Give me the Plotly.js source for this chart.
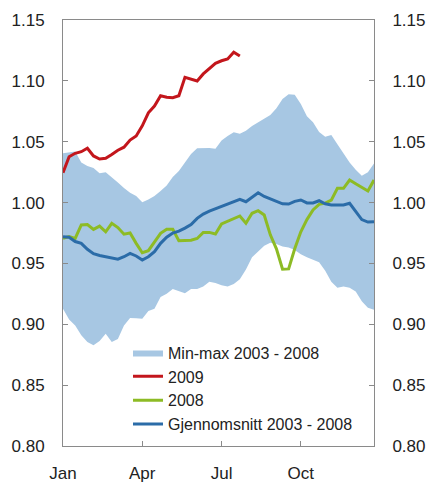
<!DOCTYPE html>
<html>
<head>
<meta charset="utf-8">
<script src="https://cdn.plot.ly/plotly-3.0.1.min.js"></script>
<style>html,body{margin:0;padding:0;background:#fff;}#chart{width:428px;height:484px;}</style>
</head>
<body>
<div id="chart"></div>
<script>
// Week index 0..51
const weeks = Array.from({length: 52}, (_, i) => i);
const tickWeeks = [0, 13, 26, 39];
const tickLabels = ['Jan', 'Apr', 'Jul', 'Oct'];
const yTicks = [0.80, 0.85, 0.90, 0.95, 1.00, 1.05, 1.10, 1.15];

const bandMax = [1.0405,1.041,1.042,1.033,1.030,1.0285,1.024,1.025,1.021,1.0165,
  1.012,1.008,1.0055,1.0002,1.0025,1.0054,1.0095,1.014,1.021,1.026,
  1.033,1.040,1.0446,1.0448,1.0448,1.0443,1.051,1.0547,1.0577,1.0565,
  1.059,1.063,1.066,1.069,1.072,1.0774,1.085,1.0889,1.0885,1.081,
  1.071,1.066,1.058,1.054,1.0555,1.048,1.0405,1.033,1.027,1.022,
  1.025,1.032];
const bandMin = [0.9128,0.904,0.899,0.891,0.8854,0.8827,0.8862,0.8922,0.8854,0.888,
  0.899,0.9052,0.905,0.9046,0.911,0.9128,0.9224,0.925,0.929,0.927,
  0.9255,0.929,0.929,0.931,0.935,0.934,0.932,0.931,0.933,0.937,
  0.945,0.955,0.960,0.9645,0.967,0.966,0.964,0.963,0.961,0.9575,
  0.955,0.953,0.951,0.944,0.935,0.930,0.931,0.930,0.927,0.919,
  0.9135,0.912];
const y2009 = [1.0245,1.0377,1.0405,1.0418,1.0446,1.0383,1.0358,1.0364,1.0395,1.043,
  1.0455,1.0514,1.0547,1.063,1.0738,1.0793,1.0878,1.0865,1.0862,1.0878,
  1.1029,1.1014,1.0999,1.1057,1.110,1.1144,1.1165,1.118,1.1235,1.1204];
const y2008 = [0.9706,0.972,0.9706,0.9816,0.982,0.978,0.9807,0.976,0.983,0.9795,
  0.974,0.975,0.9665,0.9588,0.9605,0.968,0.9747,0.978,0.978,0.9687,
  0.969,0.969,0.9705,0.9755,0.9755,0.9742,0.9824,0.9845,0.9867,0.989,
  0.983,0.9912,0.9933,0.9898,0.9735,0.962,0.9452,0.9455,0.962,0.976,
  0.986,0.994,0.9985,0.9995,1.002,1.0117,1.0117,1.0185,1.0155,1.0125,
  1.0095,1.0185];
const yAvg = [0.972,0.9715,0.968,0.9665,0.9616,0.958,0.9565,0.9553,0.9543,0.9535,
  0.9555,0.9583,0.9561,0.9528,0.9555,0.9596,0.9665,0.9715,0.975,0.9765,
  0.979,0.982,0.987,0.9905,0.993,0.995,0.997,0.999,1.001,1.0027,
  1.0007,1.0045,1.0081,1.005,1.003,1.0005,0.999,0.9988,1.001,1.0021,
  0.9997,0.9997,1.0015,0.999,0.998,0.998,0.998,0.9994,0.9925,0.986,
  0.984,0.9843];

const names = ['Min-max 2003 - 2008', '2009', '2008', 'Gjennomsnitt 2003 - 2008'];
const colors = {band: '#a7c7e3', red: '#c3161c', green: '#8dbb25', blue: '#2b6ca8'};

const traces = [
  {x: weeks, y: bandMin, type: 'scatter', mode: 'lines', line: {width: 0, color: colors.band},
   showlegend: false, hoverinfo: 'skip'},
  {x: weeks, y: bandMax, type: 'scatter', mode: 'lines', line: {width: 0, color: colors.band},
   fill: 'tonexty', fillcolor: colors.band, name: names[0]},
  {x: weeks.slice(0, y2009.length), y: y2009, type: 'scatter', mode: 'lines',
   line: {color: colors.red, width: 3}, name: names[1]},
  {x: weeks, y: y2008, type: 'scatter', mode: 'lines',
   line: {color: colors.green, width: 3}, name: names[2]},
  {x: weeks, y: yAvg, type: 'scatter', mode: 'lines',
   line: {color: colors.blue, width: 3}, name: names[3]},
  {x: weeks, y: yAvg, type: 'scatter', mode: 'lines', yaxis: 'y2',
   line: {width: 0}, opacity: 0, showlegend: false, hoverinfo: 'skip'}
];

const axisCommon = {
  showgrid: false, zeroline: false, showline: true, linecolor: '#8a8a8a', linewidth: 1,
  ticks: 'inside', ticklen: 5, tickcolor: '#8a8a8a', tickwidth: 1,
  tickfont: {family: 'Liberation Sans, Arial, sans-serif', size: 17, color: '#222'}
};

const layout = {
  width: 428, height: 484,
  margin: {l: 63, r: 54, t: 20, b: 38},
  paper_bgcolor: '#fff', plot_bgcolor: '#fff',
  showlegend: true,
  legend: {x: 0.209, y: 0.259, xanchor: 'left', yanchor: 'top', bgcolor: 'rgba(0,0,0,0)',
    traceorder: 'normal',
    font: {family: 'Liberation Sans, Arial, sans-serif', size: 16, color: '#222'},
    tracegroupgap: 0, itemwidth: 30},
  xaxis: Object.assign({}, axisCommon, {range: [0, 51], tickvals: tickWeeks, ticktext: tickLabels,
    mirror: true, ticklabelstandoff: 12}),
  yaxis: Object.assign({}, axisCommon, {range: [0.80, 1.15], tickvals: yTicks,
    tickformat: '.2f', ticklabelstandoff: 14}),
  yaxis2: Object.assign({}, axisCommon, {range: [0.80, 1.15], tickvals: yTicks,
    tickformat: '.2f', overlaying: 'y', side: 'right', ticklabelstandoff: 14})
};

Plotly.newPlot('chart', traces, layout, {displayModeBar: false, staticPlot: true});
</script>
</body>
</html>
